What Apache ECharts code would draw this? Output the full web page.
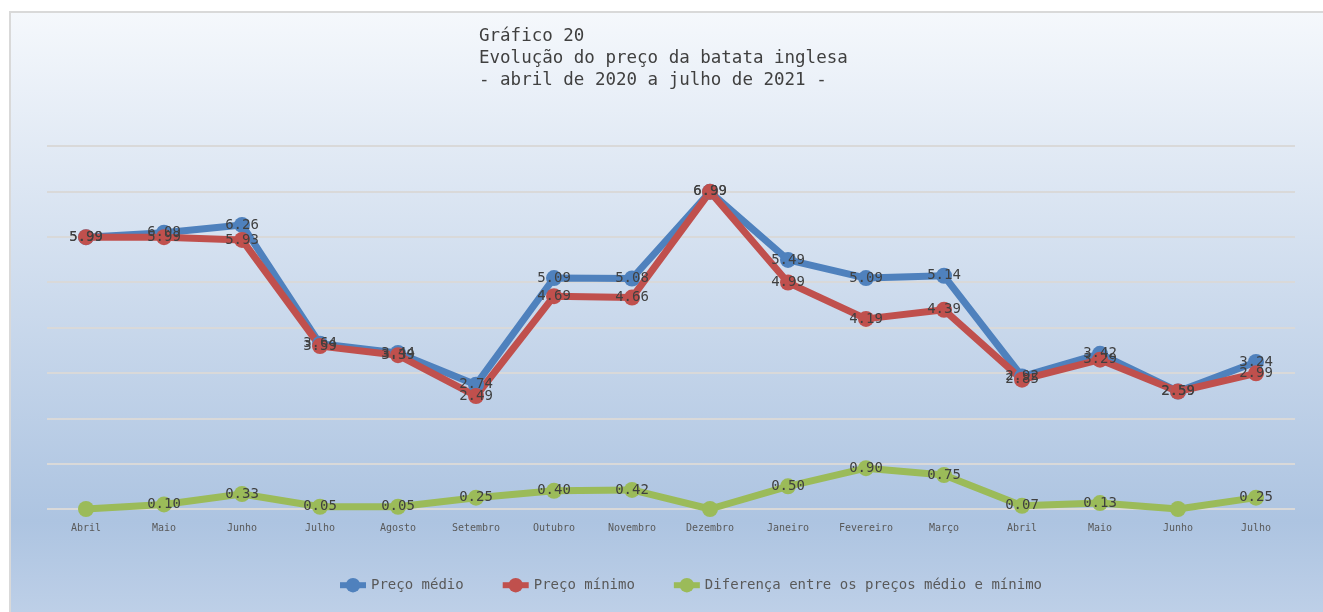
<!DOCTYPE html>
<html>
<head>
<meta charset="utf-8">
<script src="https://cdn.jsdelivr.net/npm/echarts@6/dist/echarts.min.js"></script>
<style>
  html, body { margin: 0; padding: 0; background: #fff; }
  #chart { width: 1323px; height: 612px; }
</style>
</head>
<body>
<div id="chart"></div>
<script>
// categorias (abril/2020 a julho/2021)
const months = ['Abril', 'Maio', 'Junho', 'Julho', 'Agosto', 'Setembro', 'Outubro', 'Novembro',
  'Dezembro', 'Janeiro', 'Fevereiro', 'Março', 'Abril', 'Maio', 'Junho', 'Julho']
const precoMedio = [5.99, 6.09, 6.26, 3.64, 3.44, 2.74, 5.09, 5.08, 6.99, 5.49, 5.09, 5.14, 2.92, 3.42, 2.59, 3.24]
const precoMinimo = [5.99, 5.99, 5.93, 3.59, 3.39, 2.49, 4.69, 4.66, 6.99, 4.99, 4.19, 4.39, 2.85, 3.29, 2.59, 2.99]
const diferenca = [0, 0.10, 0.33, 0.05, 0.05, 0.25, 0.40, 0.42, 0, 0.50, 0.90, 0.75, 0.07, 0.13, 0, 0.25]
const titleLines = ['Gráfico 20', 'Evolução do preço da batata inglesa', '- abril de 2020 a julho de 2021 -']

const mono = 'DejaVu Sans Mono'

const chart = echarts.init(document.getElementById('chart'))

function makeSeries (name, data, color, hideZero) {
  return {
    name: name,
    type: 'line',
    data: data,
    symbol: 'circle',
    symbolSize: 16,
    lineStyle: { width: 7, color: color },
    itemStyle: { color: color },
    label: {
      show: true,
      position: 'inside',
      color: '#404040',
      fontFamily: mono,
      fontSize: 14,
      formatter: (p) => (hideZero && p.value === 0) ? '' : p.value.toFixed(2)
    },
    emphasis: { disabled: true },
    animation: false
  }
}

const options = {
  backgroundColor: '#fff',
  graphic: [
    {
      type: 'rect',
      left: 9,
      top: 11,
      shape: { width: 1330, height: 620 },
      style: {
        fill: new echarts.graphic.LinearGradient(0, 0, 0, 1, [
          { offset: 0, color: '#f5f8fc' },
          { offset: 0.82, color: '#adc4e1' },
          { offset: 1, color: '#c1d2e9' }
        ]),
        stroke: '#d9d9d9',
        lineWidth: 2
      },
      z: -10
    }
  ],
  title: {
    text: titleLines.join('\n'),
    left: 474,
    top: 20,
    textStyle: {
      fontFamily: mono,
      fontSize: 17.5,
      fontWeight: 'normal',
      color: '#404040',
      lineHeight: 22
    }
  },
  legend: {
    left: 332,
    top: 573,
    itemWidth: 26,
    itemHeight: 18,
    itemGap: 36,
    lineStyle: { width: 6 },
    textStyle: { fontFamily: mono, fontSize: 14, color: '#595959' },
    data: ['Preço médio', 'Preço mínimo', 'Diferença entre os preços médio e mínimo']
  },
  grid: { left: 47, right: 28, top: 146, bottom: 103 },
  xAxis: {
    type: 'category',
    data: months,
    boundaryGap: true,
    axisLine: { show: false },
    axisTick: { show: false },
    axisLabel: { fontFamily: mono, fontSize: 10, color: '#595959', margin: 14, interval: 0 }
  },
  yAxis: {
    type: 'value',
    min: 0,
    max: 8,
    interval: 1,
    axisLabel: { show: false },
    axisLine: { show: false },
    axisTick: { show: false },
    splitLine: { lineStyle: { color: '#d9d9d9', width: 2 } }
  },
  series: [
    makeSeries('Preço médio', precoMedio, '#4f81bd', false),
    makeSeries('Preço mínimo', precoMinimo, '#c0504d', false),
    makeSeries('Diferença entre os preços médio e mínimo', diferenca, '#9bbb59', true)
  ]
}

chart.setOption(options)
</script>
</body>
</html>
